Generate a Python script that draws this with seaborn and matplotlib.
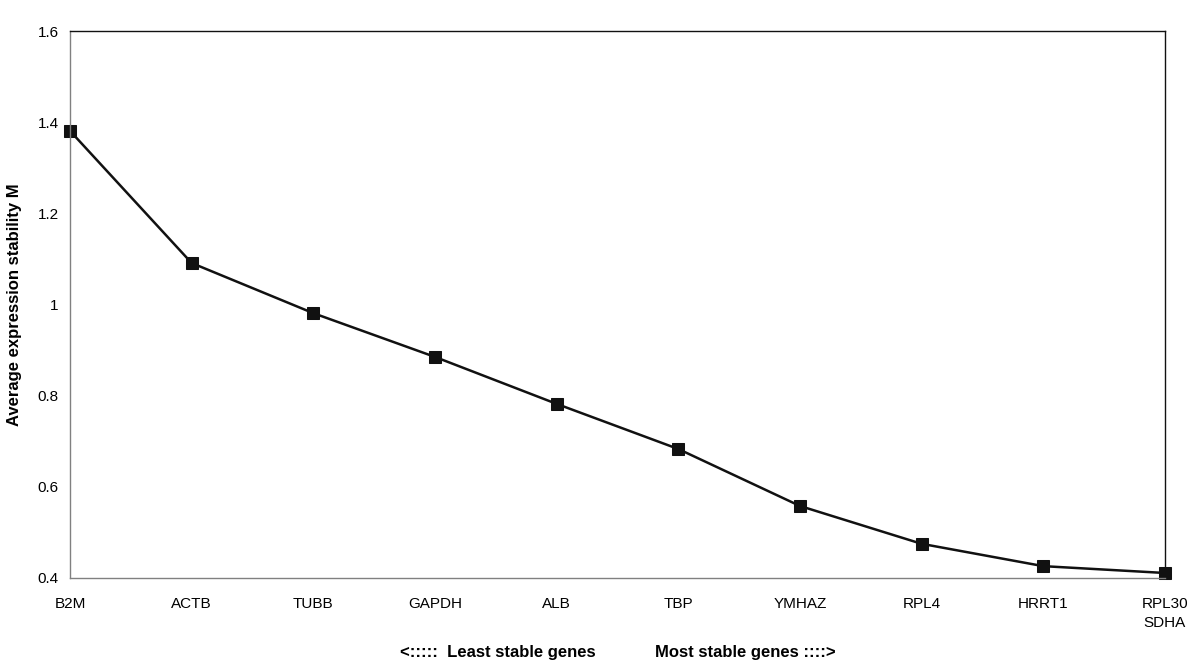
import pandas as pd
import matplotlib.pyplot as plt
import seaborn as sns

genes = ['B2M', 'ACTB', 'TUBB', 'GAPDH', 'ALB', 'TBP', 'YMHAZ', 'RPL4', 'HRRT1', 'RPL30\nSDHA']
stability_m = [1.381, 1.091, 0.981, 0.885, 0.782, 0.683, 0.558, 0.475, 0.426, 0.411]
y_ticks = [0.4, 0.6, 0.8, 1.0, 1.2, 1.4, 1.6]
y_tick_labels = ['0.4', '0.6', '0.8', '1', '1.2', '1.4', '1.6']

df = pd.DataFrame({'pos': range(len(genes)), 'M': stability_m})

sns.set_style('white')
plt.rcParams['font.family'] = ['Liberation Sans', 'DejaVu Sans']
plt.rcParams['text.color'] = 'black'
plt.rcParams['xtick.labelcolor'] = 'black'
plt.rcParams['ytick.labelcolor'] = 'black'
plt.rcParams['axes.labelcolor'] = 'black'

fig = plt.figure(figsize=(12, 6.71), dpi=100)
ax = fig.add_axes([0.0583, 0.1386, 0.9125, 0.8152])

sns.lineplot(data=df, x='pos', y='M', ax=ax, color='#111111', linewidth=1.8,
             marker='s', markersize=9, markeredgecolor='#111111', clip_on=False)

ax.set_xlim(0, len(genes) - 1)
ax.set_ylim(0.4, 1.6)
ax.set_xticks(range(len(genes)))
ax.set_xticklabels(genes, fontsize=11, linespacing=1.4)
ax.set_yticks(y_ticks)
ax.set_yticklabels(y_tick_labels, fontsize=11)
ax.tick_params(axis='x', direction='in', length=4, width=0.8, color='#808080', pad=14)
ax.tick_params(axis='y', direction='in', length=4, width=0.8, color='#808080', pad=8)

ax.set_xlabel('')
ax.set_ylabel('Average expression stability M', fontsize=12, fontweight='bold', labelpad=11)

for side in ['left', 'bottom']:
    ax.spines[side].set_color('#808080')
    ax.spines[side].set_linewidth(1.0)
for side in ['top', 'right']:
    ax.spines[side].set_color('#111111')
    ax.spines[side].set_linewidth(1.0)

fig.text(0.496, 0.027, '<:::::  Least stable genes', ha='right', va='center',
         fontsize=12, fontweight='bold')
fig.text(0.546, 0.027, 'Most stable genes ::::>', ha='left', va='center',
         fontsize=12, fontweight='bold')

fig.savefig('out.png', dpi=100)
